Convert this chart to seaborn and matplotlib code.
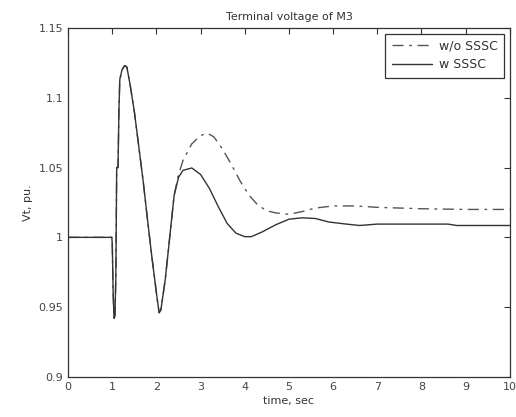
import matplotlib
matplotlib.use("Agg")
import matplotlib.pyplot as plt
import seaborn as sns
import pandas as pd

# shared transient (both cases identical up to ~2.3 s)
t_common = [0.0, 0.5, 0.99, 1.0, 1.02, 1.04, 1.06, 1.08, 1.1, 1.13, 1.15, 1.17, 1.22, 1.28,
            1.33, 1.4, 1.5, 1.6, 1.7, 1.8, 1.9, 2.0, 2.06, 2.1, 2.2, 2.31]
v_common = [1.0, 1.0, 1.0, 0.995, 0.96, 0.942, 0.944, 0.97, 1.05, 1.05, 1.09, 1.113, 1.12, 1.123,
            1.122, 1.11, 1.09, 1.065, 1.04, 1.012, 0.985, 0.96, 0.946, 0.948, 0.97, 1.003]

# without SSSC
t_wo = [2.4, 2.5, 2.6, 2.8, 3.0, 3.15, 3.3, 3.5, 3.7, 3.9, 4.1, 4.3, 4.5, 4.7, 5.0, 5.3,
        5.6, 6.0, 6.5, 7.0, 8.0, 9.0, 10.0]
v_wo = [1.03, 1.045, 1.055, 1.067, 1.073, 1.0746, 1.072, 1.063, 1.052, 1.040, 1.030, 1.023,
        1.019, 1.0175, 1.0165, 1.0185, 1.021, 1.0225, 1.0225, 1.0215, 1.0205, 1.020, 1.020]

# with SSSC
t_w = [2.4, 2.5, 2.6, 2.8, 3.0, 3.2, 3.4, 3.6, 3.8, 4.0, 4.15, 4.4, 4.7, 5.0, 5.3, 5.6,
       5.9, 6.3, 6.6, 6.8, 7.0, 8.0, 8.6, 8.8, 10.0]
v_w = [1.03, 1.043, 1.048, 1.0497, 1.045, 1.035, 1.022, 1.010, 1.003, 1.0005, 1.0005, 1.004,
       1.009, 1.013, 1.014, 1.0135, 1.011, 1.0095, 1.0085, 1.009, 1.0095, 1.0095, 1.0095,
       1.0085, 1.0085]

labels = ["w/o SSSC", "w SSSC"]
x_ticks = list(range(0, 11))
y_ticks = [0.9, 0.95, 1.0, 1.05, 1.1, 1.15]
y_tick_labels = ["0.9", "0.95", "1", "1.05", "1.1", "1.15"]

df_wo = pd.DataFrame({"t": t_common + t_wo, "v": v_common + v_wo})
df_w = pd.DataFrame({"t": t_common + t_w, "v": v_common + v_w})

sns.set_style("white")
plt.rcParams["font.family"] = ["DejaVu Sans"]

fig = plt.figure(figsize=(5.16, 4.17), dpi=100)
ax = fig.add_axes([0.132, 0.096, 0.856, 0.837])

sns.lineplot(data=df_wo, x="t", y="v", ax=ax, estimator=None, sort=False,
             color="#555555", linewidth=1.0, linestyle=(0, (8, 4, 2, 4)), label=labels[0])
sns.lineplot(data=df_w, x="t", y="v", ax=ax, estimator=None, sort=False,
             color="#333333", linewidth=1.0, linestyle="-", label=labels[1])

ax.set_xlim(0, 10)
ax.set_ylim(0.9, 1.15)
ax.set_xticks(x_ticks)
ax.set_yticks(y_ticks)
ax.set_yticklabels(y_tick_labels)
ax.tick_params(direction="in", top=True, right=True, length=4, width=0.8,
               labelsize=8, colors="#333333", labelcolor="#444444")
for s in ax.spines.values():
    s.set_color("#333333")
    s.set_linewidth(0.9)

ax.set_title("Terminal voltage of M3", fontsize=8, color="#333333", pad=6)
ax.set_xlabel("time, sec", fontsize=8, color="#333333", labelpad=3)
ax.set_ylabel("Vt, pu.", fontsize=8, color="#333333", labelpad=4)

leg = ax.legend(loc="upper right", fontsize=9, frameon=True, fancybox=False,
                framealpha=1, edgecolor="#333333", handlelength=3.2,
                borderaxespad=0.45, labelspacing=0.45, borderpad=0.5, handletextpad=0.6)
leg.get_frame().set_linewidth(0.9)
for txt in leg.get_texts():
    txt.set_color("#333333")

fig.savefig("out.png", dpi=100)
